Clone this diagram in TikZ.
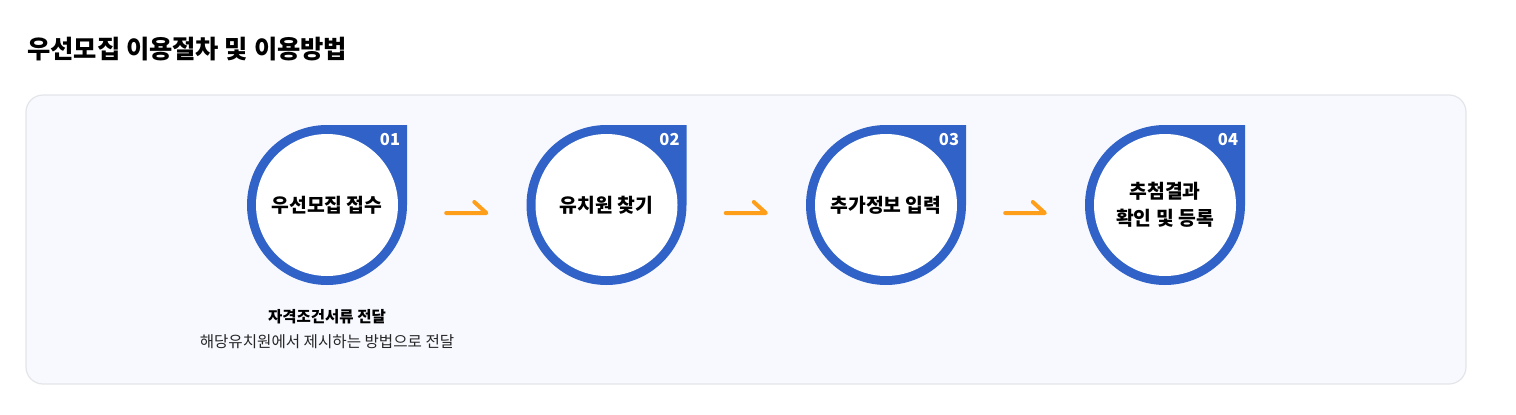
\documentclass[tikz,border=0pt]{standalone}
\usepackage{fontspec}
\setmainfont{Noto Sans CJK KR}
\usetikzlibrary{arrows.meta,positioning,calc}
\definecolor{stepblue}{RGB}{48,98,200}
\definecolor{floworange}{RGB}{255,158,24}
\definecolor{panelbg}{RGB}{248,249,254}
\definecolor{panelline}{RGB}{228,229,233}

\tikzset{
  stepcircle/.style={circle, minimum size=160pt, inner sep=0pt},
  stepbadge/.style={fill=stepblue},
  stepface/.style={fill=white},
  steplabel/.style={font=\bfseries\fontsize{19.3}{27}\selectfont, align=center, text=black},
  stepnum/.style={font=\bfseries\fontsize{16.5}{16}\selectfont, text=white},
  flowarrow/.style={draw=floworange, line width=4pt, line cap=round, line join=round},
  subhead/.style={font=\bfseries\fontsize{15.5}{18}\selectfont, text=black},
  subtext/.style={font=\fontsize{15.6}{18}\selectfont, text=black!85}
}

\begin{document}
\begin{tikzpicture}[x=1pt, y=1pt]
\useasboundingbox (0,0) rectangle (1516,-415);
% heading
\node[anchor=west, inner sep=0pt, font=\bfseries\fontsize{25.3}{25}\selectfont] (title) at (27,-49) {우선모집 이용절차 및 이용방법};
% light panel
\draw[panelline, fill=panelbg, line width=1.2pt, rounded corners=17pt] (26,-95) rectangle (1466,-384);
% four steps: round badge with one square corner
\foreach \i/\x/\lab in {1/327/{우선모집 접수}, 2/606.5/{유치원 찾기}, 3/886/{추가정보 입력}, 4/1165/{추첨결과\\확인 및 등록}}{
  \node[stepcircle] (c\i) at (\x,-205) {};
  \fill[stepbadge] ($(c\i.center)+(80,0)$) -- ++(0,80) -- ($(c\i.center)+(0,80)$)
     arc[start angle=90, end angle=360, radius=80] -- cycle;
  \fill[stepface] (c\i.center) circle[radius=71];
  \node[steplabel] (t\i) at (c\i.center) {\lab};
  \node[stepnum] (n\i) at ($(c\i.center)+(63,65)$) {0\i};
}
% arrows between steps
\foreach \i/\j in {1/2, 2/3, 3/4}{
  \draw[flowarrow] ([xshift=39pt, yshift=-8pt]c\i.east) -- ([xshift=-40pt, yshift=-8pt]c\j.west) -- ++(-12,11);
}
% note under step 1
\node[subhead] (d1) at (327,-317) {자격조건서류 전달};
\node[subtext] (d2) at (327,-342) {해당유치원에서 제시하는 방법으로 전달};
\end{tikzpicture}
\end{document}
